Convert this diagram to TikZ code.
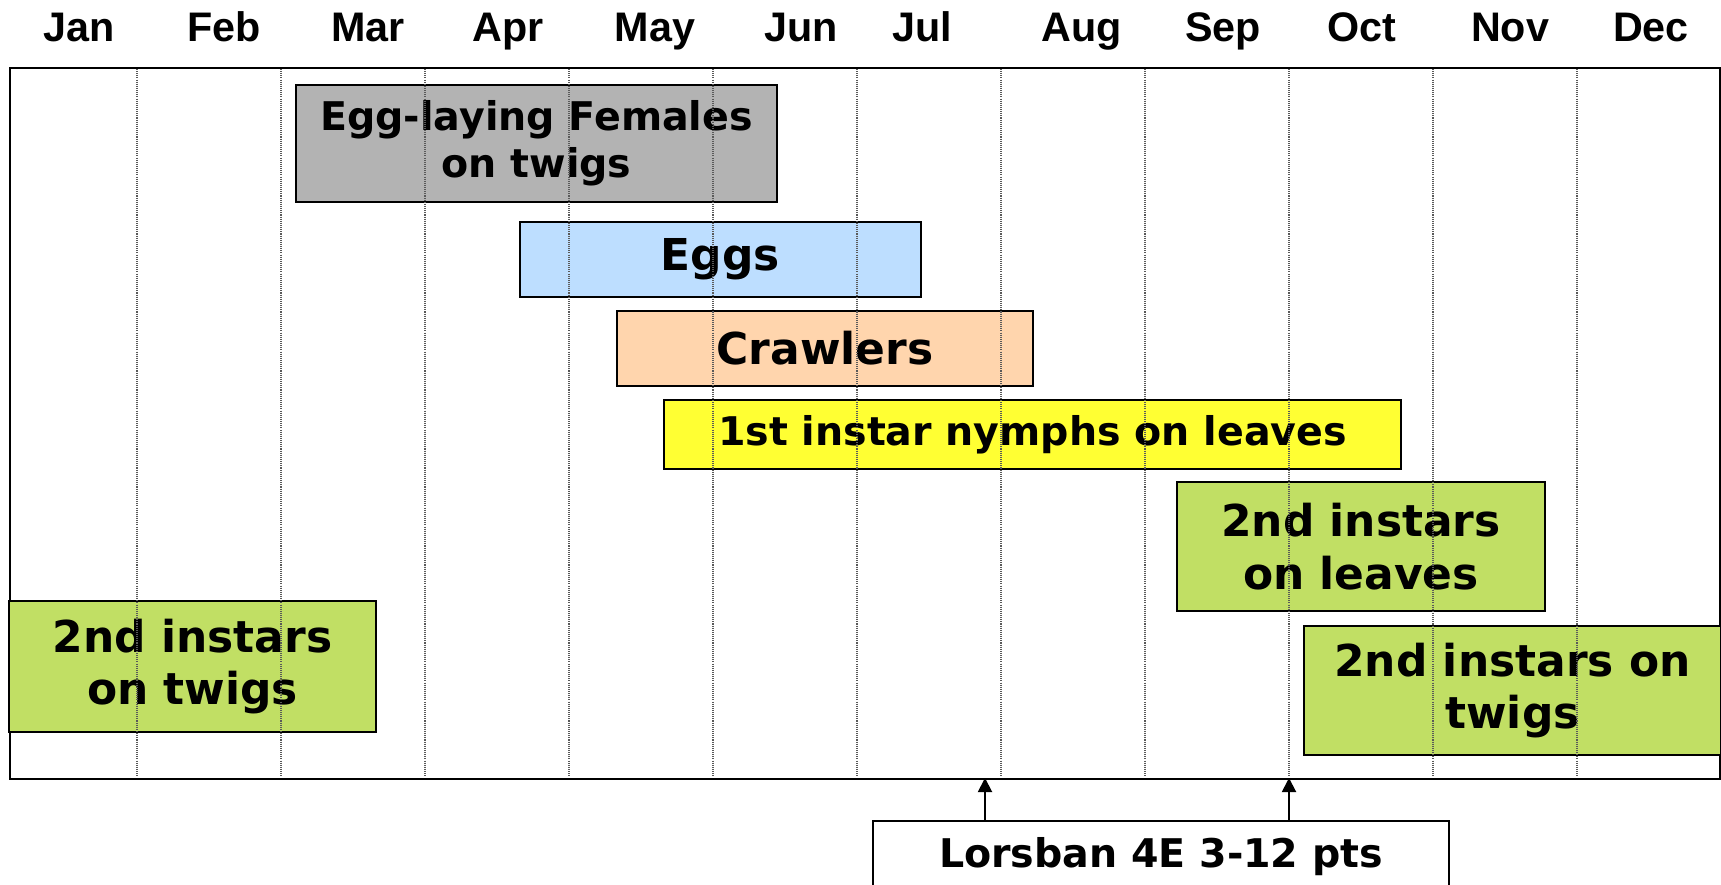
\documentclass[tikz,border=0pt]{standalone}
\usepackage{fontspec}
\setmainfont{DejaVu Sans}
\newfontfamily\monthfont{Liberation Sans}
\usetikzlibrary{arrows.meta}
\definecolor{femgray}{RGB}{179,179,179}
\definecolor{eggblue}{RGB}{189,222,255}
\definecolor{crawlpeach}{RGB}{255,213,173}
\definecolor{nymphyellow}{RGB}{255,255,51}
\definecolor{instargreen}{RGB}{193,223,100}

\begin{document}
\begin{tikzpicture}[x=0.02cm,y=-0.02cm,
  stage/.style={draw=black,line width=1.1pt,align=center,inner sep=0pt,
    font=\bfseries\fontsize{25}{30}\selectfont},
  small/.style={font=\bfseries\fontsize{22.5}{27}\selectfont},
  month/.style={font=\monthfont\bfseries\fontsize{23.5}{28}\selectfont,anchor=base},
  grid/.style={black!65,line width=0.6pt,dash pattern=on 0.6pt off 0.6pt},
  spray/.style={line width=1.1pt,-{Triangle[width=8pt,length=8pt]}}]

\useasboundingbox (0,0) rectangle (1721,885);

% months
\foreach \m/\x in {Jan/79,Feb/224,Mar/368,Apr/508,May/655,Jun/801,Jul/922,Aug/1082,Sep/1223,Oct/1362,Nov/1510,Dec/1651}
  \node[month] (m\m) at (\x,41.5) {\m};

% frame
\node[draw,line width=1.1pt,anchor=north west,minimum width=34.2cm,minimum height=14.22cm,inner sep=0pt] (frame) at (9,67) {};

% stages
\node[stage,small,fill=femgray,minimum width=9.62cm,minimum height=2.34cm] (females) at (536.5,143.5) {Egg-laying Females\\on twigs};
\node[stage,fill=eggblue,minimum width=8.02cm,minimum height=1.5cm] (eggs) at (720.5,259.5) {Eggs};
\node[stage,fill=crawlpeach,minimum width=8.32cm,minimum height=1.5cm] (crawlers) at (825,348.5) {Crawlers};
\node[stage,small,fill=nymphyellow,minimum width=14.74cm,minimum height=1.38cm] (nymphs) at (1032.5,434.5) {1st instar nymphs on leaves};
\node[stage,fill=instargreen,minimum width=7.36cm,minimum height=2.58cm] (leaves) at (1361,546.5) {2nd instars\\on leaves};
\node[stage,fill=instargreen,minimum width=7.34cm,minimum height=2.62cm] (twigsA) at (192.5,666.5) {2nd instars\\on twigs};
\node[stage,fill=instargreen,minimum width=8.34cm,minimum height=2.58cm] (twigsB) at (1512.5,690.5) {2nd instars on\\twigs};

% month lines
\foreach \i in {0,...,10}
  \draw[grid] ({137+144*\i},69) -- ({137+144*\i},776);

% spray
\node[stage,small,fill=white,minimum width=11.52cm,text height=0.94cm,text depth=0.6cm,anchor=north] (lorsban) at (1161,820) {Lorsban 4E 3-12 pts};
\coordinate (spray1) at (985,778);
\coordinate (spray2) at (1289,778);
\draw[spray] (lorsban.north -| spray1) -- (spray1);
\draw[spray] (lorsban.north -| spray2) -- (spray2);
\end{tikzpicture}
\end{document}
